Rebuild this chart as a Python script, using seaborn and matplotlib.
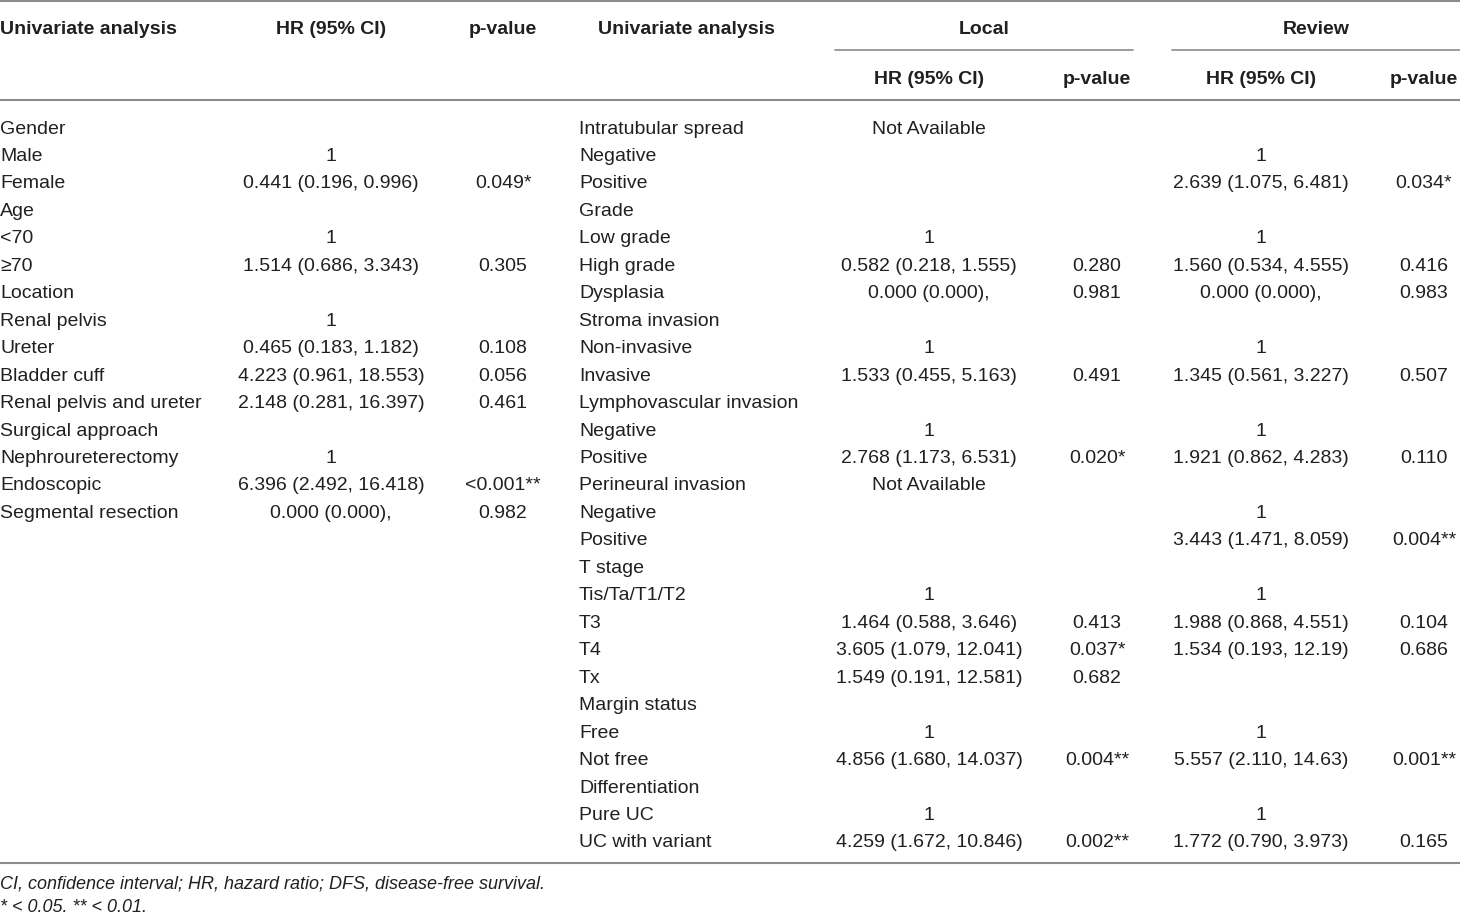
import matplotlib.pyplot as plt
import seaborn as sns
import pandas as pd

# left block: patient / surgery factors
left_labels = ["Gender", "Male", "Female", "Age", "<70", "\u226570", "Location",
               "Renal pelvis", "Ureter", "Bladder cuff", "Renal pelvis and ureter",
               "Surgical approach", "Nephroureterectomy", "Endoscopic",
               "Segmental resection"]
left_hr = ["", "1", "0.441 (0.196, 0.996)", "", "1", "1.514 (0.686, 3.343)", "",
           "1", "0.465 (0.183, 1.182)", "4.223 (0.961, 18.553)",
           "2.148 (0.281, 16.397)", "", "1", "6.396 (2.492, 16.418)",
           "0.000 (0.000),"]
left_p = ["", "", "0.049*", "", "", "0.305", "", "", "0.108", "0.056", "0.461",
          "", "", "<0.001**", "0.982"]

# right block: pathology factors, local vs review
right_labels = ["Intratubular spread", "Negative", "Positive", "Grade", "Low grade",
                "High grade", "Dysplasia", "Stroma invasion", "Non-invasive",
                "Invasive", "Lymphovascular invasion", "Negative", "Positive",
                "Perineural invasion", "Negative", "Positive", "T stage",
                "Tis/Ta/T1/T2", "T3", "T4", "Tx", "Margin status", "Free",
                "Not free", "Differentiation", "Pure UC", "UC with variant"]
local_hr = ["Not Available", "", "", "", "1", "0.582 (0.218, 1.555)",
            "0.000 (0.000),", "", "1", "1.533 (0.455, 5.163)", "", "1",
            "2.768 (1.173, 6.531)", "Not Available", "", "", "", "1",
            "1.464 (0.588, 3.646)", "3.605 (1.079, 12.041)",
            "1.549 (0.191, 12.581)", "", "1", "4.856 (1.680, 14.037)", "", "1",
            "4.259 (1.672, 10.846)"]
local_p = ["", "", "", "", "", "0.280", "0.981", "", "", "0.491", "", "",
           "0.020*", "", "", "", "", "", "0.413", "0.037*", "0.682", "", "",
           "0.004**", "", "", "0.002**"]
review_hr = ["", "1", "2.639 (1.075, 6.481)", "", "1", "1.560 (0.534, 4.555)",
             "0.000 (0.000),", "", "1", "1.345 (0.561, 3.227)", "", "1",
             "1.921 (0.862, 4.283)", "", "1", "3.443 (1.471, 8.059)", "", "1",
             "1.988 (0.868, 4.551)", "1.534 (0.193, 12.19)", "", "", "1",
             "5.557 (2.110, 14.63)", "", "1", "1.772 (0.790, 3.973)"]
review_p = ["", "", "0.034*", "", "", "0.416", "0.983", "", "", "0.507", "", "",
            "0.110", "", "", "0.004**", "", "", "0.104", "0.686", "", "", "",
            "0.001**", "", "", "0.165"]

footnotes = ["CI, confidence interval; HR, hazard ratio; DFS, disease-free survival.",
             "* < 0.05. ** < 0.01."]

left = pd.DataFrame({"label": left_labels, "hr": left_hr, "p": left_p})
right = pd.DataFrame({"label": right_labels, "lhr": local_hr, "lp": local_p,
                      "rhr": review_hr, "rp": review_p})

sns.set_style("white")
plt.rcParams['font.family'] = ['Liberation Sans', 'DejaVu Sans']

W, H = 1460, 917
fig = plt.figure(figsize=(14.6, 9.17), dpi=100)
ax = fig.add_axes([0, 0, 1, 1])
ax.set_xlim(0, W)
ax.set_ylim(H, 0)
ax.axis('off')

txt = "#231f20"
line = "#8c8c8c"
fs = 14

# rules
ax.plot([0, W], [1, 1], color=line, lw=1.5)
ax.plot([0, W], [100, 100], color=line, lw=1.5)
ax.plot([0, W], [863, 863], color=line, lw=1.5)
ax.plot([835, 1133], [50, 50], color=line, lw=1.2)
ax.plot([1172, W], [50, 50], color=line, lw=1.2)

# headers
hb = dict(fontsize=fs, fontweight='bold', color=txt, va='center')
ax.text(0, 29, "Univariate analysis", ha='left', **hb)
ax.text(331, 29, "HR (95% CI)", ha='center', **hb)
ax.text(503, 29, "p-value", ha='center', **hb)
ax.text(598, 29, "Univariate analysis", ha='left', **hb)
ax.text(984, 29, "Local", ha='center', **hb)
ax.text(1316, 29, "Review", ha='center', **hb)
ax.text(929, 80, "HR (95% CI)", ha='center', **hb)
ax.text(1097, 80, "p-value", ha='center', **hb)
ax.text(1261, 80, "HR (95% CI)", ha='center', **hb)
ax.text(1424, 80, "p-value", ha='center', **hb)

y0, dy = 129, 27.46
tb = dict(fontsize=fs, color=txt, va='center')
for i, r in left.iterrows():
    y = y0 + i * dy
    ax.text(0, y, r["label"], ha='left', **tb)
    ax.text(331, y, r["hr"], ha='center', **tb)
    ax.text(503, y, r["p"], ha='center', **tb)

for i, r in right.iterrows():
    y = y0 + i * dy
    ax.text(579, y, r["label"], ha='left', **tb)
    ax.text(929, y, r["lhr"], ha='center', **tb)
    ax.text(1097, y, r["lp"], ha='center', **tb)
    ax.text(1261, y, r["rhr"], ha='center', **tb)
    ax.text(1424, y, r["rp"], ha='center', **tb)

for k, note in enumerate(footnotes):
    ax.text(0, 884 + k * 24, note, ha='left', fontsize=13, style='italic',
            color=txt, va='center')

fig.savefig("out.png", dpi=100)
